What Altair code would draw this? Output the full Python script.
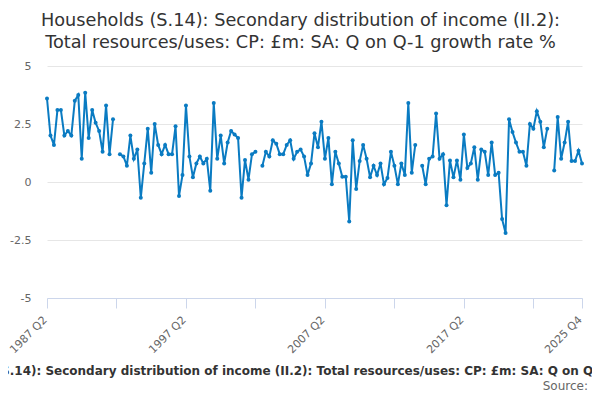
import altair as alt
import pandas as pd

TITLE_LINES = [
    "Households (S.14): Secondary distribution of income (II.2):",
    "Total resources/uses: CP: £m: SA: Q on Q-1 growth rate %",
]
SERIES_NAME = ("Households (S.14): Secondary distribution of income (II.2): "
               "Total resources/uses: CP: £m: SA: Q on Q-1 growth rate %")

START_YEAR = 1987
START_Q = 2

values = [
    3.6, 2.0, 1.6, 3.1, 3.1, 2.0, 2.2, 2.0, 3.5, 3.75,
    1.0, 3.85, 1.9, 3.1, 2.55, 2.2, 1.3, 3.3, 1.2, 2.7,
    None, 1.2, 1.1, 0.7, 2.0, 1.0, 1.4, -0.68, 0.8, 2.3,
    0.4, 2.5, 1.6, 1.2, 1.6, 1.2, 1.2, 2.4, -0.6, 0.3,
    3.3, 1.1, 0.2, 0.8, 1.1, 0.8, 1.0, -0.38, 3.4, 1.0,
    2.0, 0.8, 1.7, 2.2, 2.05, 1.9, -0.68, 0.95, 0.1, 1.2,
    1.3, None, 0.7, 1.3, 1.1, 1.8, 1.65, 1.2, 1.2, 1.6,
    1.8, 1.0, 1.3, 1.4, 1.1, 0.3, 0.8, 2.1, 1.5, 2.6,
    1.0, 1.9, -0.1, 1.3, 0.8, 0.23, 0.23, -1.7, 1.8, -0.3,
    0.9, 1.6, 1.0, 0.2, 0.7, 0.3, 0.8, -0.1, 0.17, 1.3,
    0.7, -0.1, 0.8, 0.3, 3.4, 0.4, 1.6, None, 0.7, -0.1,
    1.0, 1.1, 2.95, 1.0, 1.2, -1.0, 0.93, 0.2, 0.93, 0.1,
    2.05, 0.6, 0.8, 1.5, 0.1, 1.4, 1.3, 0.3, 1.7, 0.3,
    0.4, -1.6, -2.2, 2.7, 2.15, 1.7, 1.3, 1.3, 0.7, 2.5,
    2.3, 3.05, 2.6, 1.5, 2.3, None, 0.5, 2.8, 1.0, 1.7,
    2.6, 0.9, 0.9, 1.35, 0.8,
]

quarters = []
y, q = START_YEAR, START_Q
for _ in values:
    quarters.append(f"{y} Q{q}")
    q += 1
    if q > 4:
        q = 1
        y += 1

n = len(values)
tick_idx = list(range(0, n - 1, 10)) + [n - 1]
label_idx = [0, 40, 80, 120, n - 1]
y_ticks = [-5, -2.5, 0, 2.5, 5]

label_expr = "''"
for i in reversed(label_idx):
    label_expr = f"datum.value == {i} ? '{quarters[i]}' : ({label_expr})"

df = pd.DataFrame({"i": list(range(n)), "quarter": quarters, "value": values})

FONT = "DejaVu Sans"
BLUE = "#0a7bc2"

x_enc = alt.X(
    "i:Q",
    scale=alt.Scale(domain=[0, n - 1], nice=False, zero=False),
    axis=alt.Axis(
        values=tick_idx, labelExpr=label_expr, labelAngle=-45, labelAlign="right",
        labelBaseline="middle", labelColor="#666666", labelFontSize=11, labelFont=FONT,
        domainColor="#ccd6eb", tickColor="#ccd6eb", tickSize=10, grid=False,
        title=None, labelPadding=10, labelOffset=-2, labelOverlap=False, labelFlush=False,
    ),
)
y_enc = alt.Y(
    "value:Q",
    scale=alt.Scale(domain=[-5, 5], nice=False),
    axis=alt.Axis(
        values=y_ticks, labelExpr="datum.value + ''", domain=False, ticks=False,
        gridColor="#e6e6e6", labelColor="#666666", labelFontSize=11, labelFont=FONT,
        labelPadding=16, title=None,
    ),
)

base = alt.Chart(df)
line = base.mark_line(color=BLUE, strokeWidth=2, invalid="break-paths-filter-domains").encode(
    x=x_enc, y=y_enc
)
pts = base.transform_filter("isValid(datum.value)").mark_circle(
    color=BLUE, size=16, opacity=1
).encode(x="i:Q", y="value:Q", tooltip=["quarter:N", "value:Q"])

legend_txt = alt.Chart(pd.DataFrame({"t": [SERIES_NAME]})).mark_text(
    font=FONT, fontSize=12, fontWeight="bold", color="#333333", align="center", baseline="alphabetic"
).encode(text="t:N", x=alt.value(263), y=alt.value(309))

source_txt = alt.Chart(pd.DataFrame({"t": ["Source:"]})).mark_text(
    font=FONT, fontSize=12, color="#666666", align="right", baseline="alphabetic"
).encode(text="t:N", x=alt.value(541), y=alt.value(324))

chart = alt.layer(line, pts, legend_txt, source_txt).properties(
    width=535,
    height=232,
    autosize=alt.AutoSizeParams(type="none"),
    padding={"left": 39, "top": 58, "right": 10, "bottom": 94},
    title=alt.TitleParams(
        text=TITLE_LINES, font=FONT, fontSize=17.7, fontWeight="normal", color="#333333",
        anchor="middle", frame="group", dx=-14, lineHeight=22, offset=8,
    ),
).configure_view(strokeWidth=0)

chart.save("out.html", embed_options={"renderer": "svg", "actions": False})
